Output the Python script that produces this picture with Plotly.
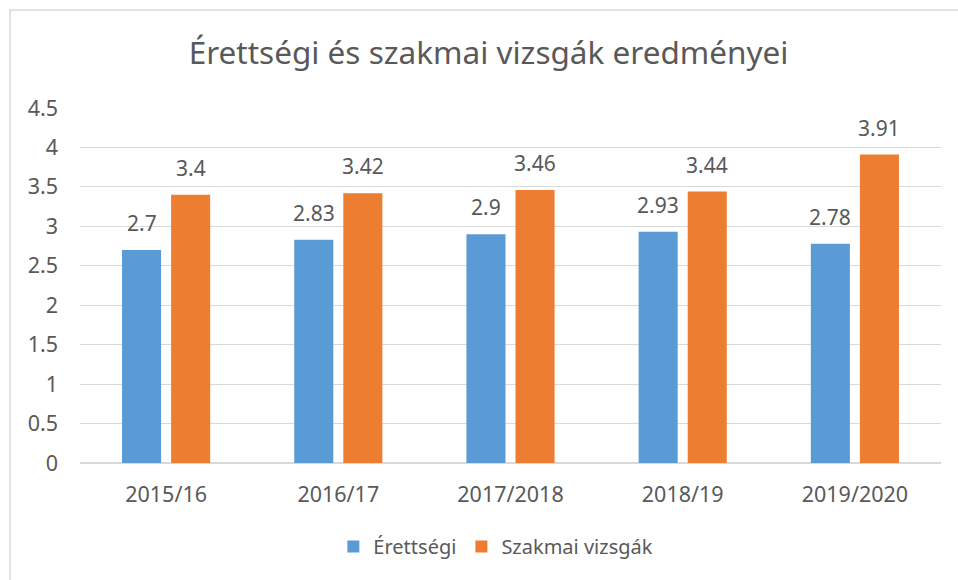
import plotly.graph_objects as go

categories = ["2015/16", "2016/17", "2017/2018", "2018/19", "2019/2020"]
erettsegi = [2.7, 2.83, 2.9, 2.93, 2.78]
szakmai = [3.4, 3.42, 3.46, 3.44, 3.91]
series_names = ["Érettségi", "Szakmai vizsgák"]
colors = ["#5B9BD5", "#ED7D31"]
y_ticks = [0, 0.5, 1, 1.5, 2, 2.5, 3, 3.5, 4, 4.5]
y_tick_labels = ["0", "0.5", "1", "1.5", "2", "2.5", "3", "3.5", "4", "4.5"]

FONT = "Noto Sans"
GRAY = "#595959"

fig = go.Figure()
for name, vals, col in zip(series_names, [erettsegi, szakmai], colors):
    fig.add_trace(go.Bar(x=categories, y=vals, name=name, marker=dict(color=col, line=dict(width=0))))

annotations = []
for vals, shift in zip([erettsegi, szakmai], [-24.5, 24.5]):
    for c, v in zip(categories, vals):
        annotations.append(dict(x=c, y=v, text=str(v), showarrow=False, xshift=shift, yshift=11,
                                yanchor="bottom", font=dict(family=FONT, size=21, color=GRAY)))

fig.update_layout(
    width=958, height=580,
    margin=dict(l=80, r=17, t=108, b=117),
    paper_bgcolor="white", plot_bgcolor="white",
    title=dict(text="Érettségi és szakmai vizsgák eredményei", x=0.51, xanchor="center", y=0.908, yanchor="middle",
               font=dict(family=FONT, size=31.5, color=GRAY)),
    barmode="group", bargap=0.43, bargroupgap=0.204,
    xaxis=dict(showgrid=False, showline=False, ticks="", ticklabelstandoff=16,
               tickfont=dict(family=FONT, size=21.5, color=GRAY)),
    yaxis=dict(range=[0, 4.5], tickvals=y_ticks, ticktext=y_tick_labels, showgrid=True, gridcolor="#D9D9D9",
               gridwidth=1, zeroline=True, zerolinecolor="#D9D9D9", showline=False, ticks="",
               ticklabelstandoff=21, tickfont=dict(family=FONT, size=21.5, color=GRAY)),
    legend=dict(orientation="h", x=0.483, xanchor="center", y=-0.235, yanchor="middle",
                font=dict(family=FONT, size=20, color=GRAY), itemwidth=30),
    annotations=annotations,
    shapes=[dict(type="rect", xref="paper", yref="paper", x0=-0.0813, x1=3, y0=-3, y1=1.276,
                 line=dict(color="#D9D9D9", width=1.5), fillcolor="rgba(0,0,0,0)", layer="below")],
)

fig.write_html("out.html", config={"displayModeBar": False},
               post_script="document.body.style.margin='0';")
